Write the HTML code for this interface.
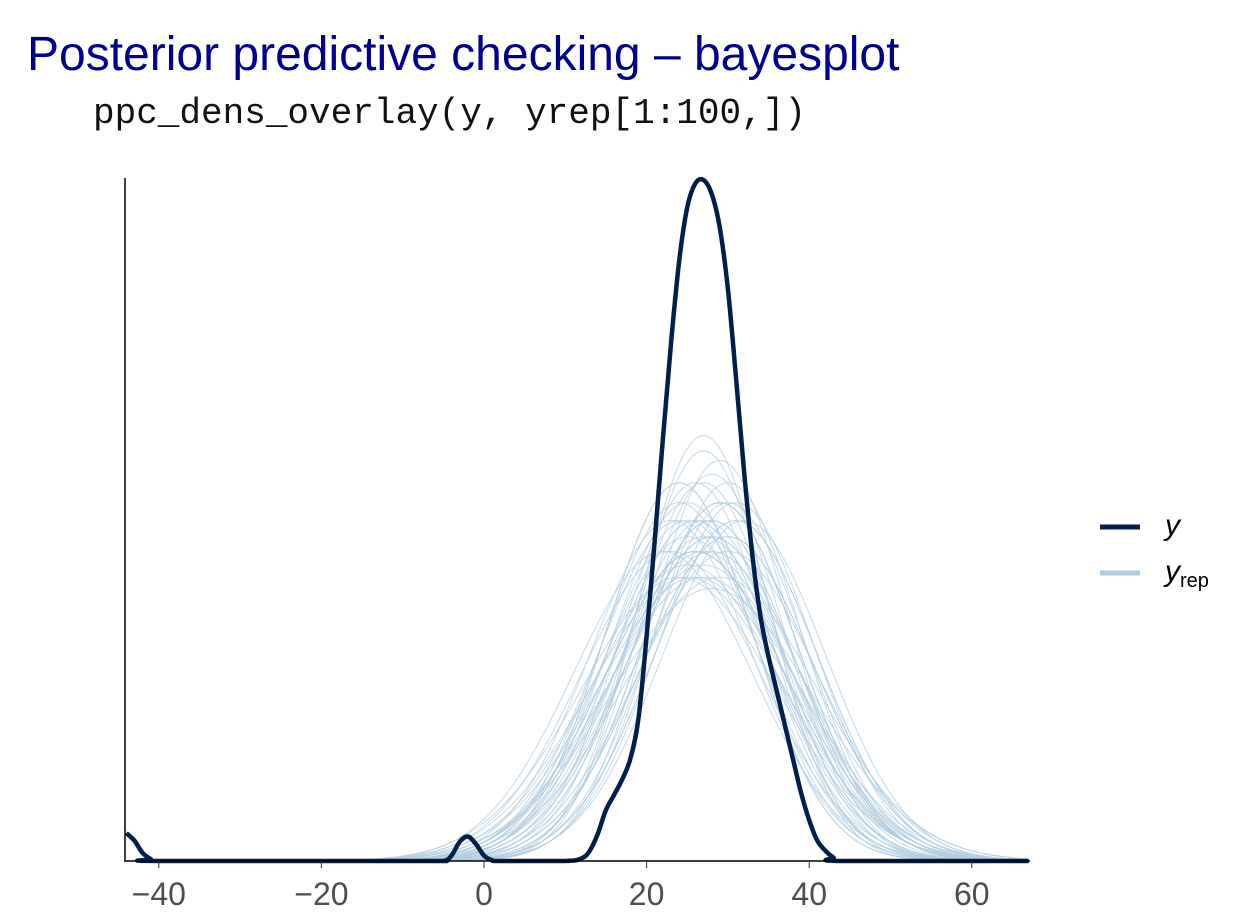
<!DOCTYPE html>
<html><head><meta charset="utf-8"><style>
body{margin:0;background:#fff;width:1237px;height:918px;overflow:hidden}
svg text{font-family:"Liberation Sans",sans-serif}
</style></head><body>
<svg id="chart" width="1237" height="918">
<text x="27" y="70" font-size="48" fill="#00008B">Posterior predictive checking – bayesplot</text>
<text x="93" y="123" font-size="36" fill="#111" style="font-family:'Liberation Mono',monospace">ppc_dens_overlay(y, yrep[1:100,])</text>
<g id="yrepG"></g>
<g id="yG"></g>
<line x1="125" y1="178" x2="125" y2="862" stroke="#000" stroke-width="1.5"/>
<line x1="125" y1="861" x2="1030" y2="861" stroke="#000" stroke-width="1.5"/>
<g id="ticks"></g>
<g>
<line x1="1100" y1="527" x2="1140" y2="527" stroke="#011F4B" stroke-width="5"/>
<text x="1165" y="535" font-size="30" font-style="italic" fill="#000">y</text>
<line x1="1100" y1="573" x2="1140" y2="573" stroke="#B3CDE0" stroke-width="5"/>
<text x="1165" y="581" font-size="30" font-style="italic" fill="#000">y<tspan font-size="20" font-style="normal" dy="6">rep</tspan></text>
</g>
</svg>
<script>
const xTicks=[-40,-20,0,20,40,60];
const yX=[-44,-43,-42,-41,-40,-8,-5,-4,-3,-2,-1,0,1,2,10,12,13,14,15,16,17,18,19,20,21,22,23,24,25,26,27,28,29,30,31,32,33,34,35,36,37,38,39,40,41,42,43,44,67];
const yD=[0.041,0.03,0.012,0.003,0,0,0,0.008,0.028,0.036,0.025,0.008,0.001,0,0,0.004,0.015,0.04,0.075,0.097,0.12,0.15,0.21,0.33,0.47,0.62,0.76,0.88,0.96,0.995,1.0,0.98,0.93,0.84,0.71,0.57,0.45,0.36,0.3,0.25,0.2,0.15,0.1,0.06,0.03,0.015,0.005,0,0];
const repMean=[26,28,24,30,27,25,29,31,23,27,26,28,25,30,29,24,27,32,26,28,22,27,29,25,31,26,28,24,30,27,26,29,23,28,25,27,30,26,28,24,31,27,25,29,26,28,27,24,30,26];
const repSd=[10,11,9,10.5,8,12,9.5,10,11,9,10,12.5,9.5,11,8.5,10,11.5,10,9,10.5,11,8.3,12,10,9.5,11,10,12,9,10.5,11,9.5,10,8.8,11.5,10,9.5,12,10.5,9,10,11,10.5,9.5,11,10,12,9.5,10.5,11];
const W=v=>484+(v)*8.13;
const base=861, K=3405, yTop=180;
const Y=d=>base-d*(base-yTop);
const ns="http://www.w3.org/2000/svg";
const rg=document.getElementById('yrepG');
repMean.forEach((m,i)=>{
  const s=repSd[i];let d="";
  for(let v=-44.2;v<=67.2;v+=0.5){const h=K/s*Math.exp(-0.5*((v-m)/s)**2);d+=(d?"L":"M")+W(v).toFixed(1)+","+(base-h).toFixed(1);}
  const p=document.createElementNS(ns,'path');p.setAttribute('d',d);p.setAttribute('fill','none');p.setAttribute('stroke','#B3CDE0');p.setAttribute('stroke-width','1');p.setAttribute('opacity','0.75');
  
  
  rg.appendChild(p);
});
const pts=yX.map((v,i)=>[W(Math.min(v,67.2)),Y(yD[i])]);
let d="M"+pts[0][0].toFixed(1)+","+pts[0][1].toFixed(1);
for(let i=0;i<pts.length-1;i++){
  const p0=pts[Math.max(0,i-1)],p1=pts[i],p2=pts[i+1],p3=pts[Math.min(pts.length-1,i+2)];
  const c1=[p1[0]+(p2[0]-p0[0])/6,p1[1]+(p2[1]-p0[1])/6];
  const c2=[p2[0]-(p3[0]-p1[0])/6,p2[1]-(p3[1]-p1[1])/6];
  c1[1]=Math.min(c1[1],base);c2[1]=Math.min(c2[1],base);
  d+="C"+c1.map(v=>v.toFixed(1))+" "+c2.map(v=>v.toFixed(1))+" "+p2.map(v=>v.toFixed(1));
}
const yp=document.createElementNS(ns,'path');yp.setAttribute('d',d);yp.setAttribute('fill','none');yp.setAttribute('stroke','#011F4B');yp.setAttribute('stroke-width','4.5');yp.setAttribute('stroke-linejoin','round');


document.getElementById('yG').appendChild(yp);
const tg=document.getElementById('ticks');
xTicks.forEach(t=>{
  const l=document.createElementNS(ns,'line');l.setAttribute('x1',W(t));l.setAttribute('x2',W(t));l.setAttribute('y1',861);l.setAttribute('y2',868);l.setAttribute('stroke','#333');
  
  
  tg.appendChild(l);
  const tx=document.createElementNS(ns,'text');tx.setAttribute('x',W(t));tx.setAttribute('y',905);tx.setAttribute('text-anchor','middle');tx.setAttribute('font-size','32');tx.setAttribute('fill','#4d4d4d');
  tx.textContent=t<0?'\u2212'+(-t):String(t);
  
  
  tg.appendChild(tx);
});
</script>
</body></html>
